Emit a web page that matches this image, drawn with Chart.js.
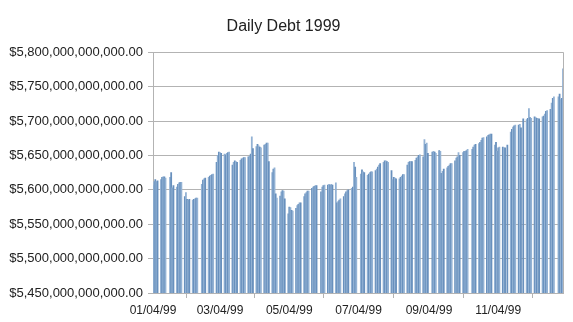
<!DOCTYPE html>
<html>
<head>
<meta charset="utf-8">
<script src="https://cdn.jsdelivr.net/npm/chart.js"></script>
<style>
  html, body { margin: 0; padding: 0; background: #fff; }
  #wrap { width: 573px; height: 322px; }
</style>
</head>
<body>
<div id="wrap"><canvas id="debtChart"></canvas></div>
<script>
// daily debt, billions of dollars, one value per business day of each month
const jan = [5606, 5612, 5615, 5612, 5613, 5615, 5618, 5619, 5619, 5617, 5618, 5625, 5603, 5606, 5604, 5608, 5610, 5611, 5611];
const feb = [5590, 5596, 5586, 5585, 5586, 5585, 5586, 5587, 5588, 5588, 5608, 5614, 5616, 5617, 5618, 5620, 5621, 5622, 5623];
const mar = [5640, 5650, 5655, 5654, 5653, 5652, 5651, 5653, 5654, 5655, 5636, 5640, 5642, 5641, 5640, 5643, 5645, 5646, 5647, 5647, 5648, 5649, 5652];
const apr = [5677, 5660, 5663, 5666, 5664, 5662, 5661, 5665, 5666, 5668, 5668, 5641, 5625, 5630, 5632, 5594, 5588, 5591, 5597, 5599, 5598, 5587];
const may = [5565, 5575, 5574, 5570, 5569, 5573, 5577, 5579, 5581, 5581, 5590, 5594, 5596, 5598, 5598, 5602, 5604, 5605, 5606, 5606];
const jun = [5597, 5604, 5606, 5607, 5607, 5608, 5607, 5608, 5607, 5610, 5581, 5583, 5585, 5587, 5590, 5594, 5597, 5599, 5600, 5602, 5604, 5640];
const jul = [5633, 5618, 5623, 5629, 5626, 5625, 5621, 5623, 5625, 5626, 5626, 5628, 5630, 5633, 5636, 5638, 5640, 5642, 5642, 5641, 5640];
const aug = [5628, 5615, 5618, 5617, 5616, 5616, 5618, 5620, 5622, 5622, 5636, 5640, 5641, 5641, 5641, 5643, 5646, 5648, 5650, 5651, 5648, 5673];
const sep = [5666, 5668, 5653, 5655, 5656, 5655, 5653, 5657, 5656, 5624, 5627, 5630, 5632, 5634, 5636, 5638, 5638, 5642, 5646, 5648, 5654];
const oct = [5650, 5654, 5656, 5656, 5657, 5659, 5659, 5662, 5665, 5666, 5667, 5669, 5672, 5675, 5676, 5677, 5679, 5680, 5681, 5681];
const nov = [5665, 5669, 5656, 5661, 5662, 5662, 5661, 5661, 5665, 5684, 5688, 5691, 5693, 5694, 5694, 5695, 5690, 5703, 5702, 5704];
const dec = [5718, 5705, 5704, 5706, 5705, 5704, 5703, 5703, 5706, 5707, 5710, 5714, 5715, 5717, 5726, 5733, 5735, 5735, 5739, 5731, 5733, 5776];

const months = [jan, feb, mar, apr, may, jun, jul, aug, sep, oct, nov, dec];

// days with no report
const holidays = ['01/18', '02/15', '05/31', '07/05', '09/06', '10/11', '11/11', '11/25', '12/24'];

const tickDates = ['01/04/99', '03/04/99', '05/04/99', '07/04/99', '09/04/99', '11/04/99'];

const yTicks = { min: 5450e9, max: 5800e9, step: 50e9 };

/* ---------- CALENDAR ---------- */

const labels = [];
const values = [];
const used = months.map(() => 0);

const pad = n => String(n).padStart(2, '0');
const start = Date.UTC(1999, 0, 4);
const end = Date.UTC(1999, 11, 31);

for (let t = start; t <= end; t += 86400000) {
  const d = new Date(t);
  const m = d.getUTCMonth();
  const md = pad(m + 1) + '/' + pad(d.getUTCDate());
  labels.push(md + '/99');
  const wd = d.getUTCDay();
  if (wd === 0 || wd === 6 || holidays.includes(md)) {
    values.push(null);
  } else {
    const v = months[m][used[m]++];
    values.push(v === undefined ? null : v * 1e9);
  }
}

/* ---------- CHART ---------- */

const gridColor = '#b3b3b3';

const frame = {
  id: 'frame',
  afterDraw(chart) {
    const a = chart.chartArea;
    const c = chart.ctx;
    c.save();
    c.strokeStyle = gridColor;
    c.lineWidth = 1;
    c.beginPath();
    c.moveTo(Math.round(a.right) + 0.5, a.top);
    c.lineTo(Math.round(a.right) + 0.5, a.bottom);
    c.stroke();
    c.restore();
  }
};

new Chart(document.getElementById('debtChart'), {
  type: 'bar',
  data: {
    labels: labels,
    datasets: [{
      label: 'Debt',
      data: values,
      backgroundColor: ctx => (ctx.dataIndex % 2 ? '#93b2d4' : '#6890bd'),
      borderWidth: 0,
      barPercentage: 1,
      categoryPercentage: 1
    }]
  },
  options: {
    responsive: true,
    maintainAspectRatio: false,
    animation: false,
    layout: { padding: { left: 4, right: 10, top: 0, bottom: 0 } },
    plugins: {
      legend: { display: false },
      tooltip: { enabled: false },
      title: {
        display: true,
        text: 'Daily Debt 1999',
        color: '#222',
        font: { family: 'Liberation Sans', size: 16, weight: 'normal' },
        padding: { top: 17, bottom: 16 }
      }
    },
    scales: {
      x: {
        offset: false,
        grid: { drawOnChartArea: false, tickLength: 5, color: gridColor },
        border: { color: gridColor },
        ticks: {
          autoSkip: false,
          maxRotation: 0,
          padding: 5,
          color: '#222',
          font: { family: 'Liberation Sans', size: 12 }
        },
        afterBuildTicks: scale => {
          scale.ticks = scale.ticks.filter(t => tickDates.includes(labels[t.value]));
        },
        afterFit: scale => { scale.height = 29; }
      },
      y: {
        min: yTicks.min,
        max: yTicks.max,
        grid: { tickLength: 5, color: gridColor },
        border: { color: gridColor },
        ticks: {
          stepSize: yTicks.step,
          padding: 5,
          color: '#222',
          font: { family: 'Liberation Sans', size: 13 },
          callback: v => '$' + Number(v).toLocaleString('en-US', { minimumFractionDigits: 2, maximumFractionDigits: 2 })
        },
        afterFit: scale => { scale.width = 149; }
      }
    }
  },
  plugins: [frame]
});
</script>
</body>
</html>
